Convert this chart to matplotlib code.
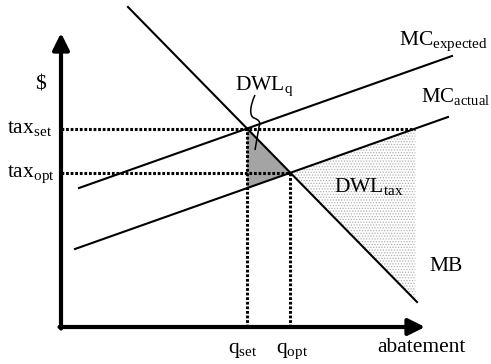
import numpy as np, matplotlib.pyplot as plt
from matplotlib.path import Path
from matplotlib.patches import PathPatch

plt.rcParams['font.family'] = 'Liberation Serif'
plt.rcParams['mathtext.fontset'] = 'custom'
plt.rcParams['mathtext.rm'] = 'Liberation Serif'
plt.rcParams['hatch.color'] = '#a8a8a8'
plt.rcParams['hatch.linewidth'] = 0.6

# curve end points (abatement, $)
mb_q, mb_p = [67, 356], [320, 25]
mce_q, mce_p = [18, 391], [139, 271]
mca_q, mca_p = [14, 387], [78, 210]
q_max, p_max = 364, 294

def line(q, p):
    m = (p[1] - p[0]) / (q[1] - q[0])
    return m, p[0] - m * q[0]

def cross(a, b):
    q = (b[1] - a[1]) / (a[0] - b[0])
    return q, a[0] * q + a[1]

mb, mce, mca = line(mb_q, mb_p), line(mce_q, mce_p), line(mca_q, mca_p)
q_set, tax_set = cross(mb, mce)
q_opt, tax_opt = cross(mb, mca)
q_tax = (tax_set - mca[1]) / mca[0]

fig = plt.figure(figsize=[4.91, 3.64], dpi=100)
ax = fig.add_axes([0, 0, 1, 1])
ax.set_xlim(-61, 430)
ax.set_ylim(-37, 327)
ax.axis('off')

# shaded areas
ax.fill([q_set, q_opt, q_set], [tax_set, tax_opt, mca[0] * q_set + mca[1]],
        color='#a4a4a4', lw=0, zorder=1)
ax.fill([q_opt, q_tax, q_tax], [tax_opt, tax_set, mb[0] * q_tax + mb[1]],
        facecolor='white', hatch='......', edgecolor='#b0b0b0', lw=0, zorder=0)

# dotted guides
dot = dict(color='k', lw=2.2, ls=(0, (0.9, 0.6)), zorder=2)
ax.plot([0, q_tax], [tax_set, tax_set], **dot)
ax.plot([0, q_opt], [tax_opt, tax_opt], **dot)
ax.plot([q_set, q_set], [0, tax_set], **dot)
ax.plot([q_opt, q_opt], [0, tax_opt], **dot)

# curves
for q, p in [(mb_q, mb_p), (mce_q, mce_p), (mca_q, mca_p)]:
    ax.plot(q, p, color='k', lw=1.5, zorder=3)

# axes with arrows
arr = dict(arrowstyle='-|>,head_length=0.5,head_width=0.25', lw=3, color='k',
           shrinkA=0, shrinkB=0, mutation_scale=20)
ax.annotate('', xy=(0, p_max), xytext=(0, -1.5), arrowprops=arr)
ax.annotate('', xy=(q_max, 0), xytext=(-1.5, 0), arrowprops=arr)

# squiggle for DWL_q
verts = [(194, 232), (189, 221), (188, 211), (193, 209),
         (198, 207), (200, 205), (198, 200), (194, 177)]
codes = [Path.MOVETO] + [Path.CURVE4] * 6 + [Path.LINETO]
ax.add_patch(PathPatch(Path(verts, codes), fc='none', ec='k', lw=1.1, zorder=4))

fs = 15.5
ax.text(-21, 242, '$', fontsize=fs, ha='center', va='center')
ax.text(-54, 193.5, r'tax$_{\rm set}$', fontsize=fs, va='baseline')
ax.text(-54, 150, r'tax$_{\rm opt}$', fontsize=fs, va='baseline')
ax.text(174, 237, r'DWL$_{\rm q}$', fontsize=fs, va='baseline')
ax.text(338, 282, r'MC$_{\rm expected}$', fontsize=fs, va='baseline')
ax.text(360, 225, r'MC$_{\rm actual}$', fontsize=15, va='baseline')
ax.text(273, 135, r'DWL$_{\rm tax}$', fontsize=fs, va='baseline')
ax.text(368, 56, 'MB', fontsize=fs, va='baseline')
ax.text(167, -26, r'q$_{\rm set}$', fontsize=fs, va='baseline')
ax.text(215, -26, r'q$_{\rm opt}$', fontsize=fs, va='baseline')
ax.text(316, -25, 'abatement', fontsize=fs, va='baseline')

plt.savefig('out.png', dpi=100)
